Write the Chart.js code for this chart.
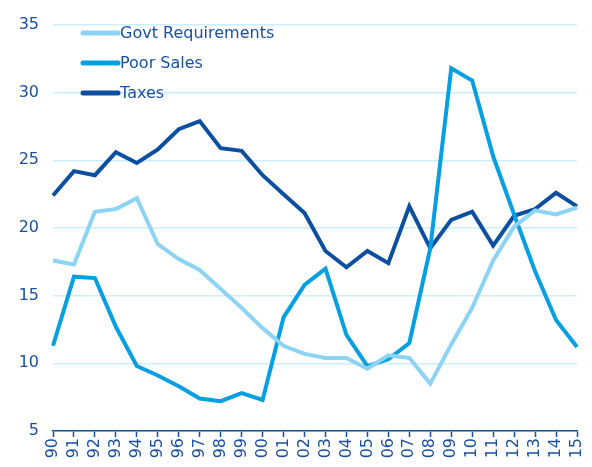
<!DOCTYPE html>
<html><head><meta charset="utf-8">
<script src="https://cdn.jsdelivr.net/npm/chart.js@4/dist/chart.umd.min.js"></script>
<style>html,body{margin:0;padding:0;background:#fff}#wrap{width:592px;height:467px}</style>
</head><body><div id="wrap"><canvas id="c" width="592" height="467"></canvas></div>
<script>
const categories = ["90","91","92","93","94","95","96","97","98","99","00","01","02","03","04","05","06","07","08","09","10","11","12","13","14","15"];
const govtRequirements = [17.6,17.3,21.2,21.4,22.2,18.8,17.7,16.9,15.5,14.1,12.6,11.3,10.7,10.4,10.4,9.6,10.6,10.4,8.5,11.4,14.1,17.6,20.1,21.3,21.0,21.5];
const poorSales = [11.3,16.4,16.3,12.7,9.8,9.1,8.3,7.4,7.2,7.8,7.3,13.4,15.8,17.0,12.1,9.8,10.3,11.5,18.5,31.8,30.9,25.3,21.0,16.8,13.2,11.2];
const taxes = [22.4,24.2,23.9,25.6,24.8,25.8,27.3,27.9,25.9,25.7,23.9,22.5,21.1,18.3,17.1,18.3,17.4,21.6,18.5,20.6,21.2,18.7,20.9,21.4,22.6,21.6];
const yTicks = [5,10,15,20,25,30,35];

const textColor = '#1a4f9c';
const FONT = '"DejaVu Sans", sans-serif';

const legendPlugin = {
  id: 'insideLegend',
  afterDraw(chart) {
    const ctx = chart.ctx, ca = chart.chartArea;
    ctx.save();
    chart.data.datasets.forEach((ds, i) => {
      const y = ca.top + 8 + i * 30;
      const x0 = ca.left + 30;
      ctx.strokeStyle = ds.borderColor;
      ctx.lineWidth = 5;
      ctx.lineCap = 'round';
      ctx.beginPath(); ctx.moveTo(x0, y); ctx.lineTo(x0 + 35, y); ctx.stroke();
      ctx.fillStyle = textColor;
      ctx.font = '16px ' + FONT;
      ctx.textBaseline = 'middle';
      ctx.textAlign = 'left';
      ctx.fillText(ds.label, x0 + 37, y + 1);
    });
    ctx.restore();
  }
};

new Chart(document.getElementById('c'), {
  type: 'line',
  data: {
    labels: categories,
    datasets: [
      {label: 'Govt Requirements', data: govtRequirements, borderColor: '#8dd3f3', borderWidth: 4, pointRadius: 0, tension: 0},
      {label: 'Poor Sales', data: poorSales, borderColor: '#069fe0', borderWidth: 4, pointRadius: 0, tension: 0},
      {label: 'Taxes', data: taxes, borderColor: '#0d4f9f', borderWidth: 4, pointRadius: 0, tension: 0}
    ]
  },
  options: {
    responsive: false,
    animation: false,
    layout: {padding: {top: 25, right: 15, left: 0, bottom: 0}},
    plugins: {legend: {display: false}, tooltip: {enabled: false}},
    scales: {
      x: {
        offset: false,
        grid: {drawOnChartArea: false, drawTicks: true, tickLength: 6, tickColor: textColor, tickWidth: 1.5},
        border: {display: true, color: textColor, width: 1.5},
        ticks: {color: textColor, font: {family: FONT, size: 16}, minRotation: 90, maxRotation: 90, autoSkip: false, padding: 1},
        afterFit(scale) { scale.height = 36; scale.paddingRight = 0; scale.paddingLeft = 0; }
      },
      y: {
        min: 5, max: 35,
        afterBuildTicks(scale) { scale.ticks = yTicks.map(v => ({value: v})); },
        grid: {color: '#cdeefb', lineWidth: 1.5, drawTicks: false},
        border: {display: false},
        ticks: {color: textColor, font: {family: FONT, size: 16}, padding: 14},
        afterFit(scale) { scale.width = 53; scale.paddingTop = 0; scale.paddingBottom = 0; }
      }
    }
  },
  plugins: [legendPlugin]
});
</script></body></html>
